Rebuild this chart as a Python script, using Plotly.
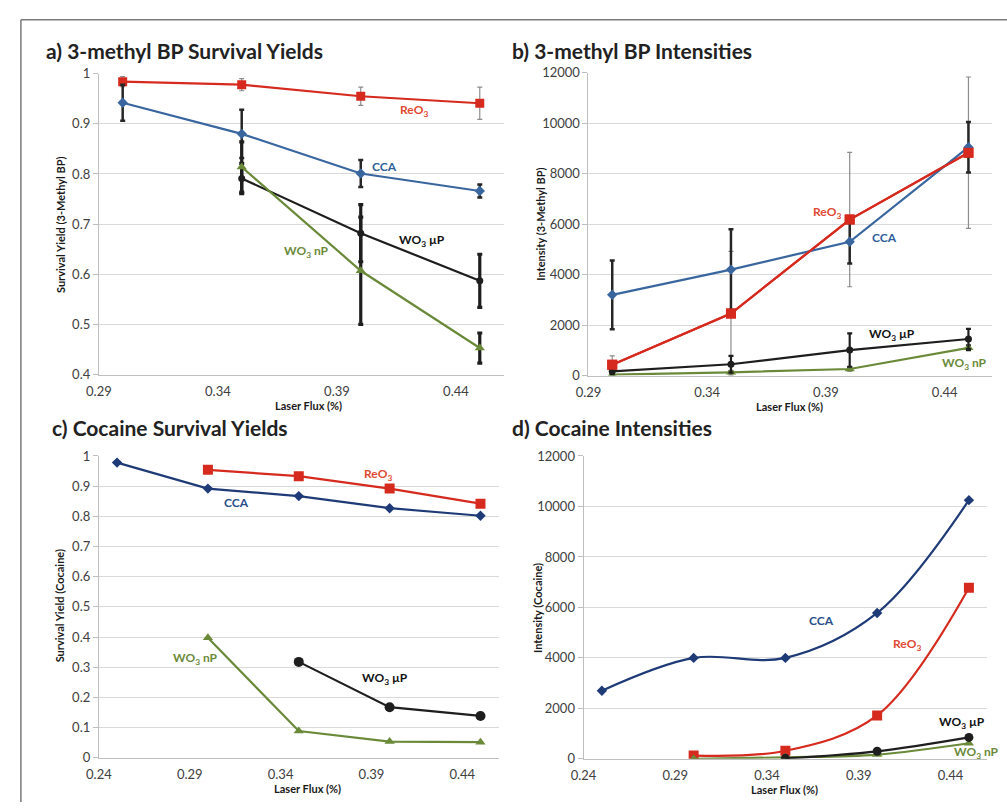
import plotly.graph_objects as go

W, H = 1007, 810

# ---------------- data ----------------
flux4 = [0.30, 0.35, 0.40, 0.45]
flux3 = [0.35, 0.40, 0.45]
flux5 = [0.25, 0.30, 0.35, 0.40, 0.45]

# a) 3-methyl BP survival yields
a_reo3 = [0.984, 0.978, 0.955, 0.941]
a_reo3_err = [0.010, 0.012, 0.018, 0.032]
a_cca = [0.942, 0.880, 0.801, 0.766]
a_cca_err = [0.036, 0.048, 0.027, 0.013]
a_wup = [0.791, 0.682, 0.587]
a_wup_err = [0.030, 0.057, 0.053]
a_wnp = [0.814, 0.607, 0.453]
a_wnp_err = [0.050, 0.107, 0.030]

# b) 3-methyl BP intensities
b_cca = [3200, 4200, 5300, 9050]
b_cca_err = [1360, 1600, 860, 1000]
b_reo3 = [430, 2460, 6180, 8830]
b_reo3_err = [350, 2460, 2660, 3000]
b_wup = [170, 450, 1010, 1450]
b_wup_err = [100, 330, 660, 400]
b_wnp = [40, 130, 260, 1100]
b_wnp_err = [30, 50, 60, 100]

# c) cocaine survival yields
c_cca = [0.978, 0.892, 0.867, 0.827, 0.802]
c_reo3 = [0.954, 0.933, 0.892, 0.842]
c_wup = [0.318, 0.168, 0.139]
c_wnp = [0.398, 0.089, 0.054, 0.052]

# d) cocaine intensities
d_cca = [2700, 4000, 4000, 5780, 10250]
d_reo3 = [130, 320, 1720, 6780]
d_wup = [20, 300, 850]
d_wnp = [0, 60, 170, 620]

ticks_ab = [0.29, 0.34, 0.39, 0.44]
ticks_cd = [0.24, 0.29, 0.34, 0.39, 0.44]
yt_sy_a = [0.4, 0.5, 0.6, 0.7, 0.8, 0.9, 1]
yt_sy = [0, 0.1, 0.2, 0.3, 0.4, 0.5, 0.6, 0.7, 0.8, 0.9, 1]
yt_int = [0, 2000, 4000, 6000, 8000, 10000, 12000]

# ---------------- style ----------------
FONT = "Lato"
RED = "#d62a1e"
BLUE = "#3a66a0"
NAVY = "#1e3b78"
BLACK = "#1e1e1e"
GREEN = "#6a8a3a"
GRID = "#d9d9d9"
TICK = "#404040"


def px_x(p):
    return p / W


def px_y(p):
    return 1 - p / H


fig = go.Figure()

# panel boxes in pixels (left, right, top, bottom)
boxes = {
    "a": (87, 497, 67, 374),
    "b": (583, 992, 66, 375),
    "c": (87, 492, 457, 765),
    "d": (578, 987, 457, 766),
}
axmap = {"a": ("x", "y"), "b": ("x2", "y2"), "c": ("x3", "y3"), "d": ("x4", "y4")}


def add(panel, x, y, color, symbol, size, err=None, errcolor=BLACK, errthick=1.0,
        shape="linear", lw=2.2):
    xa, ya = axmap[panel]
    kw = {}
    if err is not None:
        kw["error_y"] = dict(type="data", array=err, visible=True, color=errcolor,
                             thickness=errthick, width=2.5)
    fig.add_trace(go.Scatter(
        x=x, y=y, xaxis=xa, yaxis=ya, mode="lines+markers",
        line=dict(color=color, width=lw, shape=shape, smoothing=1.0),
        marker=dict(color=color, symbol=symbol, size=size),
        showlegend=False, **kw))


# a
add("a", flux4, a_reo3, RED, "square", 9, a_reo3_err, "#8c8c8c", 1.2)
add("a", flux4, a_cca, BLUE, "diamond", 8, a_cca_err, "#262626", 2.5)
add("a", flux3, a_wup, BLACK, "circle", 7, a_wup_err, BLACK, 3.2)
add("a", flux3, a_wnp, GREEN, "triangle-up", 9, a_wnp_err, BLACK, 3.2)

# b
add("b", flux4, b_reo3, RED, "square", 10, b_reo3_err, "#8c8c8c", 1.2)
add("b", flux4, b_wnp, GREEN, "triangle-up", 9, b_wnp_err, BLACK, 2.0)
add("b", flux4, b_wup, BLACK, "circle", 7, b_wup_err, BLACK, 2.2)
add("b", flux4, b_cca, BLUE, "diamond", 8, b_cca_err, "#262626", 2.5)
add("b", flux4, b_reo3, RED, "square", 10)

# c
add("c", flux5, c_cca, NAVY, "diamond", 8)
add("c", flux4, c_reo3, RED, "square", 10)
add("c", flux3, c_wup, BLACK, "circle", 10)
add("c", flux4, c_wnp, GREEN, "triangle-up", 9)

# d
add("d", flux5, d_cca, NAVY, "diamond", 8, shape="spline")
add("d", flux4, d_reo3, RED, "square", 10, shape="spline")
add("d", flux4, d_wnp, GREEN, "triangle-up", 9, shape="spline")
add("d", flux3, d_wup, BLACK, "circle", 9, shape="spline")


def xaxis(panel, tickv, rng):
    x0, x1, y0, y1 = boxes[panel]
    return dict(domain=[px_x(x0), px_x(x1)], range=rng, tickvals=tickv,
                ticktext=[f"{t:.2f}" for t in tickv], showgrid=False, zeroline=False,
                showline=True, linecolor="#bfbfbf", linewidth=1, ticks="",
                tickfont=dict(family=FONT, size=13, color=TICK), ticklabelstandoff=5,
                anchor=axmap[panel][1])


def yaxis(panel, tickv, rng, fmt):
    x0, x1, y0, y1 = boxes[panel]
    return dict(domain=[px_y(y1), px_y(y0)], range=rng, tickvals=tickv,
                ticktext=[fmt(t) for t in tickv], showgrid=True, gridcolor=GRID,
                gridwidth=1.3, zeroline=False, showline=True, linecolor="#bfbfbf",
                linewidth=1, ticks="outside", ticklen=5, tickcolor="#bfbfbf",
                tickfont=dict(family=FONT, size=13, color=TICK),
                anchor=axmap[panel][0])


def sy_fmt(t):
    return "0" if t == 0 else ("1" if t == 1 else f"{t:.1f}")


def int_fmt(t):
    return f"{int(t)}"


fig.update_layout(
    xaxis=xaxis("a", ticks_ab, [0.29, 0.46]),
    yaxis=yaxis("a", yt_sy_a, [0.4, 1.0], sy_fmt),
    xaxis2=xaxis("b", ticks_ab, [0.29, 0.46]),
    yaxis2=yaxis("b", yt_int, [0, 12000], int_fmt),
    xaxis3=xaxis("c", ticks_cd, [0.24, 0.46]),
    yaxis3=yaxis("c", yt_sy, [0, 1.0], sy_fmt),
    xaxis4=xaxis("d", ticks_cd, [0.24, 0.46]),
    yaxis4=yaxis("d", yt_int, [0, 12000], int_fmt),
)

anns = []


def paper_text(text, xp, yp, size, angle=0, xanchor="center", bold=True, color="#1a1a1a"):
    anns.append(dict(text=f"<b>{text}</b>" if bold else text, x=px_x(xp), y=px_y(yp),
                     xref="paper", yref="paper", xanchor=xanchor, yanchor="middle",
                     showarrow=False, textangle=angle,
                     font=dict(family=FONT, size=size, color=color)))


# panel titles
paper_text("a) 3-methyl BP Survival Yields", 31, 43, 21, xanchor="left", color="#222222")
paper_text("b) 3-methyl BP Intensities", 503, 43, 21, xanchor="left", color="#222222")
paper_text("c) Cocaine Survival Yields", 37, 428, 21, xanchor="left", color="#222222")
paper_text("d) Cocaine Intensities", 503, 428, 21, xanchor="left", color="#222222")

# axis titles
paper_text("Survival Yield (3-Methyl BP)", 48, 221, 11, angle=-90)
paper_text("Intensity (3-Methyl BP)", 535, 221, 11, angle=-90)
paper_text("Survival Yield (Cocaine)", 48, 610, 11, angle=-90)
paper_text("Intensity (Cocaine)", 532, 612, 11, angle=-90)
paper_text("Laser Flux (%)", 299, 406, 11)
paper_text("Laser Flux (%)", 787, 407, 11)
paper_text("Laser Flux (%)", 298, 796, 11)
paper_text("Laser Flux (%)", 782, 797, 11)


def series_label(panel, text, x, y, color, xanchor="center"):
    xa, ya = axmap[panel]
    anns.append(dict(text=f"<b>{text}</b>", x=x, y=y, xref=xa, yref=ya,
                     showarrow=False, xanchor=xanchor, yanchor="middle",
                     font=dict(family=FONT, size=12, color=color)))


REO3 = "ReO<sub>3</sub>"
WUP = "WO<sub>3</sub> µP"
WNP = "WO<sub>3</sub> nP"
LRED, LBLUE, LNAVY, LGREEN = "#e04a32", "#2f5f9a", "#2a4f8a", "#6a8a3a"

series_label("a", REO3, 0.4225, 0.926, LRED)
series_label("a", "CCA", 0.410, 0.815, LBLUE)
series_label("a", WUP, 0.4258, 0.668, "#111111")
series_label("a", WNP, 0.3774, 0.645, LGREEN)

series_label("b", REO3, 0.3903, 6450, LRED)
series_label("b", "CCA", 0.4147, 5460, LBLUE)
series_label("b", WUP, 0.4179, 1630, "#111111")
series_label("b", WNP, 0.4482, 490, LGREEN)

series_label("c", REO3, 0.3936, 0.937, LRED)
series_label("c", "CCA", 0.3158, 0.846, LNAVY)
series_label("c", WUP, 0.3973, 0.263, "#111111")
series_label("c", WNP, 0.2931, 0.328, LGREEN)

series_label("d", "CCA", 0.3697, 5480, LNAVY)
series_label("d", REO3, 0.4164, 4540, LRED)
series_label("d", WUP, 0.446, 1440, "#111111")
series_label("d", WNP, 0.4540, 240, LGREEN)

fig.update_layout(
    annotations=anns,
    shapes=[
        dict(type="line", xref="paper", yref="paper", x0=px_x(8), x1=1.0,
             y0=px_y(12), y1=px_y(12), line=dict(color="#7a7a7a", width=1.5)),
        dict(type="line", xref="paper", yref="paper", x0=px_x(8), x1=px_x(8),
             y0=px_y(12), y1=0, line=dict(color="#7a7a7a", width=1.5)),
    ],
    width=W, height=H,
    margin=dict(l=0, r=0, t=0, b=0),
    paper_bgcolor="white", plot_bgcolor="white",
    font=dict(family=FONT),
)

fig.write_html(
    "out.html",
    config={"displayModeBar": False},
    post_script="document.body.style.margin='0';document.body.style.overflow='hidden';",
)
